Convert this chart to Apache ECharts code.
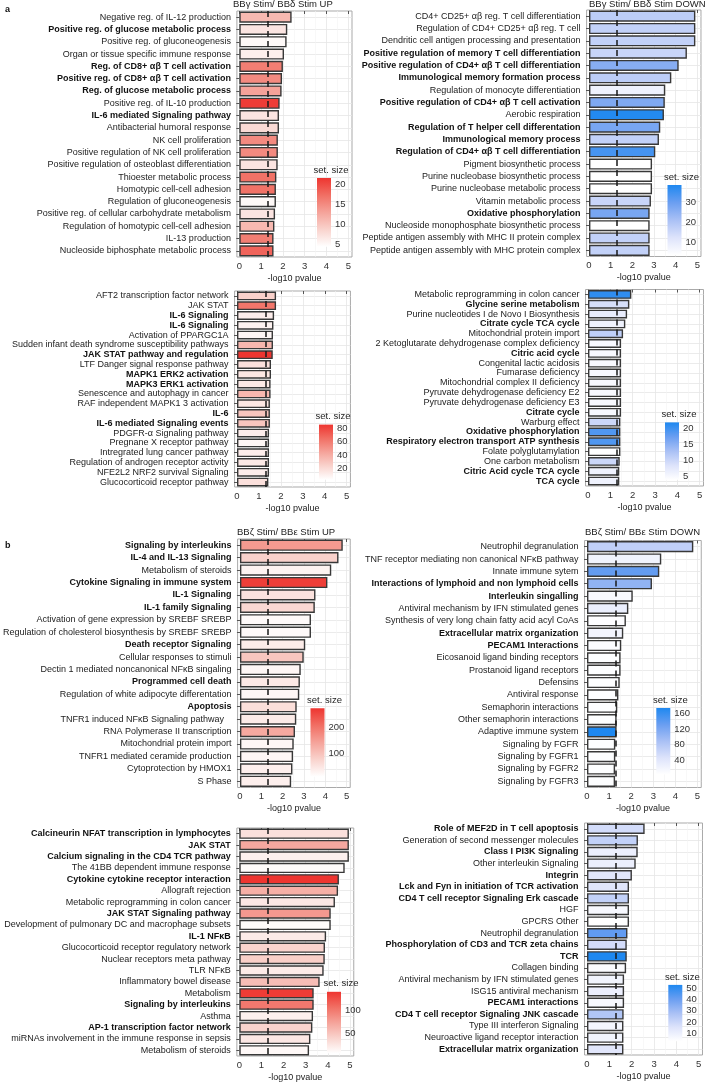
<!DOCTYPE html>
<html><head><meta charset="utf-8">
<script src="https://cdn.jsdelivr.net/npm/echarts@6/dist/echarts.min.js"></script>
<style>html,body{margin:0;padding:0;background:#fff}#c{width:707px;height:1083px}</style>
</head><body><div id="c"></div>
<script>
// ---------- DATA ----------
const xTicks = [0, 1, 2, 3, 4, 5];
const xMinorTicks = [0.5, 1.5, 2.5, 3.5, 4.5];
const sigLine = 1.3;
const xTitle = '-log10 pvalue';
const legendTitle = 'set. size';

const terms1 = ['Negative reg. of IL-12 production','Positive reg. of glucose metabolic process','Positive reg. of gluconeogenesis','Organ or tissue specific immune response','Reg. of CD8+ αβ T cell activation','Positive reg. of CD8+ αβ T cell activation','Reg. of glucose metabolic process','Positive reg. of IL-10 production','IL-6 mediated Signaling pathway','Antibacterial humoral response','NK cell proliferation','Positive regulation of NK cell proliferation','Positive regulation of osteoblast differentiation','Thioester metabolic process','Homotypic cell-cell adhesion','Regulation of gluconeogenesis','Positive reg. of cellular carbohydrate metabolism','Regulation of homotypic cell-cell adhesion','IL-13 production','Nucleoside biphosphate metabolic process'];
const values1 = [2.40,2.20,2.17,2.05,2.00,1.96,1.94,1.85,1.82,1.82,1.77,1.77,1.76,1.70,1.68,1.68,1.64,1.61,1.57,1.57];
const sizes1 = [11,7,5,6,16,15,13,21,7,8,15,15,7,17,17,5,7,11,16,18];
const bold1 = [1,4,5,6,8];
const legTicks1 = [5,10,15,20];
const legRange1 = [4.4, 21.5];
const title1 = 'BBγ Stim/ BBδ Stim UP';

const terms2 = ['CD4+ CD25+ αβ reg. T cell differentiation','Regulation of CD4+ CD25+ αβ reg. T cell','Dendritic cell antigen processing and presentation','Positive regulation of memory T cell differentiation','Positive regulation of CD4+ αβ T cell differentiation','Immunological memory formation process','Regulation of monocyte differentiation','Positive regulation of CD4+ αβ T cell activation','Aerobic respiration','Regulation of T helper cell differentation','Immunological memory process','Regulation of CD4+ αβ T cell differentiation','Pigment biosynthetic process','Purine nucleobase biosynthetic process','Purine nucleobase metabolic process','Vitamin metabolic process','Oxidative phosphorylation','Nucleoside monophosphate biosynthetic process','Peptide antigen assembly with MHC II protein complex','Peptide antigen assembly with MHC protein complex'];
const values2 = [4.91,4.91,4.91,4.52,4.14,3.80,3.52,3.50,3.46,3.29,3.23,3.06,2.91,2.91,2.91,2.86,2.80,2.80,2.80,2.80];
const sizes2 = [18,17,17,16,26,18,8,27,38,28,17,34,4,4,4,16,28,4,17,17];
const bold2 = [3,4,5,7,9,10,11,16];
const legTicks2 = [10,20,30];
const legRange2 = [3.9, 38.6];
const title2 = 'BBγ Stim/ BBδ Stim DOWN';

const terms3 = ['AFT2 transcription factor network','JAK STAT','IL-6 Signaling','IL-6 Signaling','Activation of PPARGC1A','Sudden infant death syndrome susceptibility pathways','JAK STAT pathway and regulation','LTF Danger signal response pathway','MAPK1 ERK2 activation','MAPK3 ERK1 activation','Senescence and autophagy in cancer','RAF independent MAPK1 3 activation','IL-6','IL-6 mediated Signaling events','PDGFR-α Signaling pathway','Pregnane X receptor pathway','Intregrated lung cancer pathway','Regulation of androgen receptor activity','NFE2L2 NRF2 survival Signaling','Glucocorticoid receptor pathway'];
const values3 = [1.78,1.78,1.69,1.66,1.64,1.64,1.63,1.55,1.55,1.53,1.53,1.50,1.50,1.50,1.46,1.46,1.46,1.46,1.46,1.43];
const sizes3 = [25,62,12,10,8,36,85,18,15,14,36,15,30,30,12,8,12,14,12,18];
const bold3 = [2,3,6,8,9,12,13];
const legTicks3 = [20,40,60,80];
const legRange3 = [3.8, 85];

const terms4 = ['Metabolic reprogramming in colon cancer','Glycine serine metabolism','Purine nucleotides I de Novo I Biosynthesis','Citrate cycle TCA cycle','Mitochondrial protein import','2 Ketoglutarate dehydrogenase complex deficiency','Citric acid cycle','Congenital lactic acidosis','Fumarase deficiency','Mitochondrial complex II deficiency','Pyruvate dehydrogenase deficiency E2','Pyruvate dehydrogenase deficiency E3','Citrate cycle','Warburg effect','Oxidative phosphorylation','Respiratory electron transport ATP synthesis','Folate polyglutamylation','One carbon metabolism','Citric Acid cycle TCA cycle','TCA cycle'];
const values4 = [1.94,1.85,1.75,1.67,1.57,1.48,1.48,1.48,1.48,1.48,1.48,1.48,1.48,1.45,1.45,1.45,1.45,1.42,1.40,1.40];
const sizes4 = [21,9,7,6,11,5,5,5,5,5,5,5,5,10,19,19,4,10,6,6];
const bold4 = [1,3,6,12,14,15,18,19];
const legTicks4 = [5,10,15,20];
const legRange4 = [3.9, 22];

const terms5 = ['Signaling by interleukins','IL-4 and IL-13 Signaling','Metabolism of steroids','Cytokine Signaling in immune system','IL-1 Signaling','IL-1 family Signaling','Activation of gene expression by SREBF SREBP','Regulation of cholesterol biosynthesis by SREBF SREBP','Death receptor Signaling','Cellular responses to stimuli','Dectin 1 mediated noncanonical NFκB singaling','Programmed cell death','Regulation of white adipocyte differentation','Apoptosis','TNFR1 induced NFκB Signaling pathway   ','RNA Polymerase II transcription','Mitochondrial protein import','TNFR1 mediated ceramide production','Cytoprotection by HMOX1','S Phase'];
const values5 = [4.82,4.62,4.28,4.10,3.54,3.51,3.33,3.33,3.06,2.99,2.85,2.81,2.78,2.66,2.64,2.58,2.52,2.49,2.46,2.40];
const sizes5 = [155,80,30,265,55,70,20,20,40,95,25,45,25,60,42,135,25,25,35,35];
const bold5 = [0,1,3,4,5,8,11,13];
const legTicks5 = [100,200];
const legRange5 = [11.5, 275];
const title5 = 'BBζ Stim/ BBε Stim UP';

const terms6 = ['Neutrophil degranulation','TNF receptor mediating non canonical NFκB pathway','Innate immune sytem','Interactions of lymphoid and non lymphoid cells','Interleukin singalling','Antiviral mechanism by IFN stimulated genes','Synthesis of very long chain fatty acid acyl CoAs','Extracellular matrix organization','PECAM1 Interactions','Eicosanoid ligand binding receptors','Prostanoid ligand receptors','Defensins','Antiviral response','Semaphorin interactions','Other semaphorin interactions','Adaptive immune system','Signaling by FGFR','Signaling by FGFR1','Signaling by FGFR2','Signaling by FGFR3'];
const values6 = [4.81,3.36,3.27,2.94,2.07,1.87,1.76,1.64,1.55,1.52,1.52,1.48,1.42,1.37,1.34,1.34,1.28,1.28,1.27,1.27];
const sizes6 = [70,22,135,105,12,28,6,18,8,5,5,5,5,5,5,174,5,5,5,5];
const bold6 = [3,4,7,8];
const legTicks6 = [40,80,120,160];
const legRange6 = [3, 174];
const title6 = 'BBζ Stim/ BBε Stim DOWN';

const terms7 = ['Calcineurin NFAT transcription in lymphocytes','JAK STAT','Calcium signaling in the CD4 TCR pathway','The 41BB dependent immune response','Cytokine cytokine receptor interaction','Allograft rejection','Metabolic reprogramming in colon cancer','JAK STAT Signaling pathway','Development of pulmonary DC and macrophage subsets','IL-1 NFκB','Glucocorticoid receptor regulatory network','Nuclear receptors meta pathway','TLR NFκB','Inflammatory bowel disease','Metabolism','Signaling by interleukins','Asthma','AP-1 transcription factor network','miRNAs involvement in the immune response in sepsis','Metabolism of steroids'];
const values7 = [4.95,4.95,4.95,4.76,4.50,4.46,4.32,4.13,4.13,3.92,3.87,3.86,3.81,3.63,3.36,3.36,3.33,3.30,3.21,3.15];
const sizes7 = [30,70,18,10,139,65,25,80,10,22,40,43,22,55,135,100,18,40,25,12];
const bold7 = [0,1,2,4,7,9,15,17];
const legTicks7 = [50,100];
const legRange7 = [7, 139];

const terms8 = ['Role of MEF2D in T cell apoptosis','Generation of second messenger molecules','Class I PI3K Signaling','Other interleukin Signaling','Integrin','Lck and Fyn in initiation of TCR activation','CD4 T cell receptor Signaling Erk cascade','HGF','GPCRS Other','Neutrophil degranulation','Phosphorylation of CD3 and TCR zeta chains','TCR','Collagen binding','Antiviral mechanism by IFN stimulated genes','ISG15 antiviral mechanism','PECAM1 interactions','CD4 T cell receptor Signaling JNK cascade','Type III interferon Signaling','Neuroactive ligand receptor interaction','Extracellular matrix organization'];
const values8 = [2.58,2.28,2.27,2.18,2.01,1.88,1.88,1.88,1.88,1.81,1.78,1.78,1.75,1.66,1.66,1.66,1.64,1.63,1.63,1.63];
const sizes8 = [18,22,10,10,14,14,22,6,3,42,18,53,5,8,10,6,26,7,8,14];
const bold8 = [0,2,4,5,6,10,11,15,16,19];
const legTicks8 = [10,20,30,40,50];
const legRange8 = [3, 53];

// ---------- STYLE / LAYOUT ----------
const FONT = '"Liberation Sans", Arial, Helvetica, sans-serif';
const RED = ['#ffffff', '#f9d3cd', '#f5a39a', '#f16f64', '#ee3530'];
const BLUE = ['#ffffff', '#dde3fb', '#a9c0f5', '#6a9ef1', '#1e88f0'];
const X_MIN = -0.11, X_MAX = 5.17;
const LEG_W = 14;

const panels = [
  {terms:terms1, values:values1, sizes:sizes1, bold:bold1, pal:RED, legTicks:legTicks1, legRange:legRange1,
   g:{x0:239.3, x5:348.3, top:11, bottom:257, leg:{cx:324, top:178, bottom:246.7}}},
  {terms:terms2, values:values2, sizes:sizes2, bold:bold2, pal:BLUE, legTicks:legTicks2, legRange:legRange2,
   g:{x0:589, x5:697.3, top:10, bottom:256.5, leg:{cx:674.5, top:184.9, bottom:255}}},
  {terms:terms3, values:values3, sizes:sizes3, bold:bold3, pal:RED, legTicks:legTicks3, legRange:legRange3,
   g:{x0:237, x5:346.7, top:291, bottom:487, leg:{cx:326, top:424.6, bottom:479.7}}},
  {terms:terms4, values:values4, sizes:sizes4, bold:bold4, pal:BLUE, legTicks:legTicks4, legRange:legRange4,
   g:{x0:588, x5:699.7, top:289.5, bottom:486, leg:{cx:672, top:422.4, bottom:479.8}}},
  {terms:terms5, values:values5, sizes:sizes5, bold:bold5, pal:RED, legTicks:legTicks5, legRange:legRange5,
   g:{x0:237, x5:346.5, top:539, bottom:787.5, leg:{cx:317.5, top:708.2, bottom:776.7}}},
  {terms:terms6, values:values6, sizes:sizes6, bold:bold6, pal:BLUE, legTicks:legTicks6, legRange:legRange6,
   g:{x0:587, x5:697.5, top:540.5, bottom:787.5, leg:{cx:663.3, top:707.9, bottom:774.4}}},
  {terms:terms7, values:values7, sizes:sizes7, bold:bold7, pal:RED, legTicks:legTicks7, legRange:legRange7,
   g:{x0:239.3, x5:350, top:828, bottom:1057, leg:{cx:334, top:991.8, bottom:1053.3}}},
  {terms:terms8, values:values8, sizes:sizes8, bold:bold8, pal:BLUE, legTicks:legTicks8, legRange:legRange8,
   g:{x0:587, x5:698.7, top:823, bottom:1055, leg:{cx:675.3, top:984.9, bottom:1041.2}}}
];

const titles = [
  {text:title1, x:233, y:4},
  {text:title2, x:589, y:4},
  {text:title5, x:237, y:532},
  {text:title6, x:585, y:532}
];

const grid = [], xAxis = [], yAxis = [], series = [], visualMap = [];

panels.forEach((p, k) => {
  const g = p.g;
  const u = (g.x5 - g.x0) / 5;
  const left = g.x0 + X_MIN * u;
  const right = g.x0 + X_MAX * u;
  const gi = grid.length;
  grid.push({left:left, top:g.top, width:right-left, height:g.bottom-g.top, show:true,
             backgroundColor:'#fff', borderColor:'#a9a9a9', borderWidth:1});
  const xMajor = xAxis.length;
  xAxis.push({type:'value', gridIndex:gi, min:X_MIN, max:X_MAX,
    axisLine:{show:false},
    axisTick:{show:true, customValues:xTicks, length:3, lineStyle:{color:'#555'}},
    axisLabel:{customValues:xTicks, fontSize:9.5, color:'#333', margin:4, fontFamily:FONT},
    splitLine:{show:true, lineStyle:{color:'#e6e6e6', width:0.8}},
    name:xTitle, nameLocation:'middle', nameGap:17,
    nameTextStyle:{fontSize:9, color:'#222', fontFamily:FONT}});
  xAxis.push({type:'value', gridIndex:gi, min:X_MIN, max:X_MAX,
    axisLine:{show:false}, axisTick:{show:false, customValues:xMinorTicks}, axisLabel:{show:false},
    splitLine:{show:true, lineStyle:{color:'#f3f3f3', width:0.6}}});
  const yCat = yAxis.length;
  const boldSet = new Set(p.bold);
  yAxis.push({type:'category', gridIndex:gi, inverse:true, data:p.terms,
    axisLine:{show:false},
    axisTick:{show:true, alignWithLabel:true, length:3, lineStyle:{color:'#555'}},
    axisLabel:{interval:0, margin:6,
      formatter:(v, i) => (boldSet.has(i) ? '{b|' : '{n|') + v + '}',
      rich:{b:{fontSize:9, fontWeight:'bold', color:'#111', fontFamily:FONT},
            n:{fontSize:9, color:'#222', fontFamily:FONT}}},
    splitLine:{show:false}});
  yAxis.push({type:'value', gridIndex:gi, inverse:true, min:0, max:p.terms.length, position:'right',
    axisLine:{show:false}, axisLabel:{show:false},
    axisTick:{show:false, customValues:p.terms.map((_, i) => i + 0.5)},
    splitLine:{show:true, lineStyle:{color:'#e6e6e6', width:0.8}}});
  const si = series.length;
  series.push({type:'bar', xAxisIndex:xMajor, yAxisIndex:yCat,
    data:p.values.map((v, i) => [v, i, p.sizes[i]]),
    encode:{x:0, y:1}, barCategoryGap:'10%',
    itemStyle:{borderColor:'#383838', borderWidth:1.4},
    markLine:{silent:true, symbol:['none','none'], label:{show:false},
      lineStyle:{type:[6,4], color:'#1a1a1a', width:1.5},
      data:[{xAxis:sigLine}]}});
  visualMap.push({type:'continuous', show:false, seriesIndex:si, dimension:2,
    min:p.legRange[0], max:p.legRange[1], inRange:{color:p.pal}});

  // colour-bar legend drawn on its own small axis
  const L = g.leg;
  const lg = grid.length;
  grid.push({left:L.cx - LEG_W/2, top:L.top, width:LEG_W, height:L.bottom - L.top, show:false});
  const lx = xAxis.length;
  xAxis.push({type:'category', gridIndex:lg, data:[''], show:false});
  const ly = yAxis.length;
  yAxis.push({type:'value', gridIndex:lg, min:p.legRange[0], max:p.legRange[1], position:'right',
    axisLine:{show:false}, axisTick:{show:false}, splitLine:{show:false},
    axisLabel:{customValues:p.legTicks, fontSize:9.5, color:'#333', margin:4, fontFamily:FONT},
    name:legendTitle, nameLocation:'end', nameGap:3,
    nameTextStyle:{fontSize:9.5, color:'#222', fontFamily:FONT}});
  const stops = p.pal.map((c, i) => ({offset:1 - i/(p.pal.length-1), color:c}));
  series.push({type:'bar', xAxisIndex:lx, yAxisIndex:ly, stack:'leg'+k, barWidth:'100%', silent:true,
    data:[p.legRange[0]], itemStyle:{color:'rgba(0,0,0,0)'}});
  series.push({type:'bar', xAxisIndex:lx, yAxisIndex:ly, stack:'leg'+k, barWidth:'100%', silent:true,
    data:[p.legRange[1] - p.legRange[0]],
    itemStyle:{color:new echarts.graphic.LinearGradient(0, 0, 0, 1, stops.slice().reverse())}});
});

const graphic = titles.map(t => ({type:'text', x:t.x, y:t.y,
  style:{text:t.text, fontSize:9.5, fontFamily:FONT, fill:'#222', verticalAlign:'middle', align:'left'}}));
graphic.push({type:'text', x:5, y:10, style:{text:'a', fontSize:9, fontWeight:'bold', fontFamily:FONT, fill:'#111', verticalAlign:'middle'}});
graphic.push({type:'text', x:5, y:546, style:{text:'b', fontSize:9, fontWeight:'bold', fontFamily:FONT, fill:'#111', verticalAlign:'middle'}});

const chart = echarts.init(document.getElementById('c'), null, {renderer:'canvas', width:707, height:1083});
chart.setOption({animation:false, backgroundColor:'#fff', grid, xAxis, yAxis, series, visualMap, graphic});
</script></body></html>
